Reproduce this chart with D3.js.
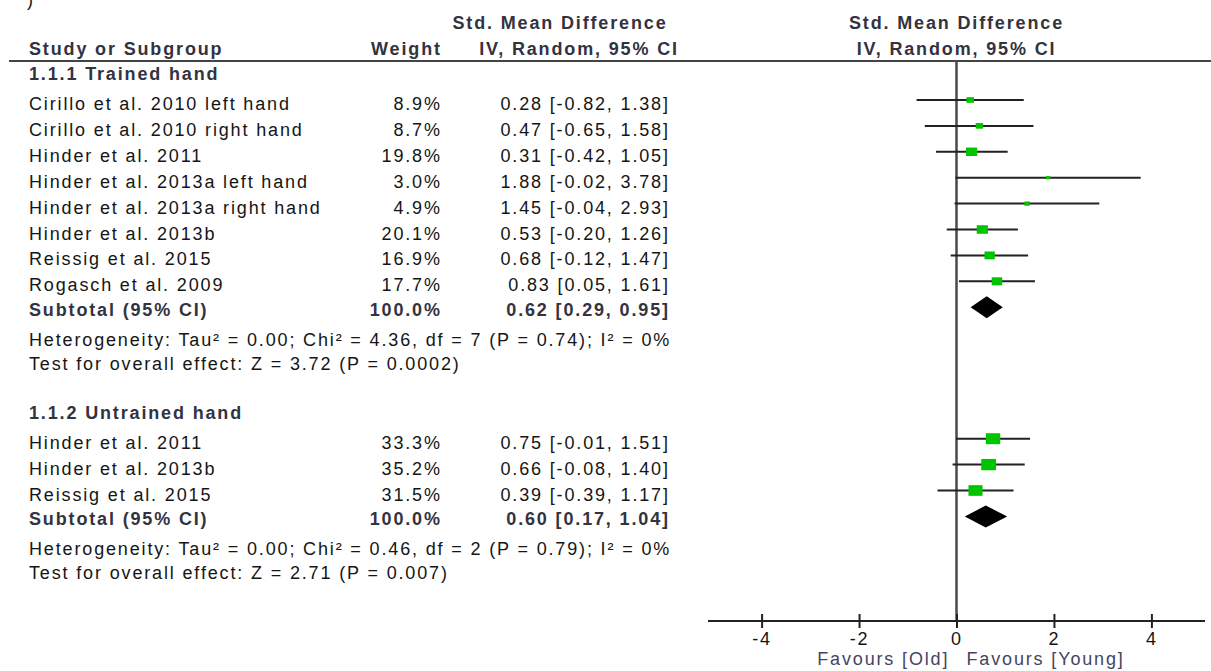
<!DOCTYPE html>
<html>
<head>
<meta charset="utf-8">
<script src="https://cdn.jsdelivr.net/npm/d3@7"></script>
<style>
  body { margin: 0; background: #fff; }
  svg text { font-family: "Liberation Sans", Arial, sans-serif; font-size: 18px; letter-spacing: 1.85px; fill: #151515; }
  svg text.bold { font-weight: bold; fill: #33333f; }
  svg text.fav { fill: #45455f; }
</style>
</head>
<body>
<div id="chart"></div>
<script>
// data
const subgroups = ['1.1.1 Trained hand', '1.1.2 Untrained hand'];

const trainedStudies = ['Cirillo et al. 2010 left hand', 'Cirillo et al. 2010 right hand', 'Hinder et al. 2011',
  'Hinder et al. 2013a left hand', 'Hinder et al. 2013a right hand', 'Hinder et al. 2013b',
  'Reissig et al. 2015', 'Rogasch et al. 2009'];
const trainedWeight = [8.9, 8.7, 19.8, 3.0, 4.9, 20.1, 16.9, 17.7];
const trainedSMD = [0.28, 0.47, 0.31, 1.88, 1.45, 0.53, 0.68, 0.83];
const trainedLow = [-0.82, -0.65, -0.42, -0.02, -0.04, -0.20, -0.12, 0.05];
const trainedHigh = [1.38, 1.58, 1.05, 3.78, 2.93, 1.26, 1.47, 1.61];

const untrainedStudies = ['Hinder et al. 2011', 'Hinder et al. 2013b', 'Reissig et al. 2015'];
const untrainedWeight = [33.3, 35.2, 31.5];
const untrainedSMD = [0.75, 0.66, 0.39];
const untrainedLow = [-0.01, -0.08, -0.39];
const untrainedHigh = [1.51, 1.40, 1.17];

const subtotalSMD = [0.62, 0.60];
const subtotalLow = [0.29, 0.17];
const subtotalHigh = [0.95, 1.04];
const heterogeneity = [
  'Heterogeneity: Tau\u00b2 = 0.00; Chi\u00b2 = 4.36, df = 7 (P = 0.74); I\u00b2 = 0%',
  'Heterogeneity: Tau\u00b2 = 0.00; Chi\u00b2 = 0.46, df = 2 (P = 0.79); I\u00b2 = 0%'
];
const overallEffect = [
  'Test for overall effect: Z = 3.72 (P = 0.0002)',
  'Test for overall effect: Z = 2.71 (P = 0.007)'
];
const xTicks = [-4, -2, 0, 2, 4];

const groups = [
  {studies: trainedStudies, weight: trainedWeight, smd: trainedSMD, low: trainedLow, high: trainedHigh},
  {studies: untrainedStudies, weight: untrainedWeight, smd: untrainedSMD, low: untrainedLow, high: untrainedHigh}
];

// layout
const W = 1211, H = 671;
const ls = 1.85;
const colStudy = 29, colWeight = 440 + ls, colCI = 668 + ls;
const rowH = 25.9;
const axisY = 621;

const svg = d3.select('#chart').append('svg')
    .attr('width', W)
    .attr('height', H);

const x = d3.scaleLinear().domain([-5.1, 5.1]).range([708, 1205]);
const boxW = d3.scaleSqrt().domain([0, 36]).range([0, 15]);
const boxH = d3.scaleSqrt().domain([0, 36]).range([0, 11.4]);
// plain hyphen for negatives, like the original
const f2 = v => v.toFixed(2);
const f1 = v => v.toFixed(1);
const ciLabel = (m, l, h) => f2(m) + ' [' + f2(l) + ', ' + f2(h) + ']';

function label(t, xx, yy, anchor, cls) {
    return svg.append('text')
        .attr('x', xx)
        .attr('y', yy)
        .attr('text-anchor', anchor || 'start')
        .attr('class', cls || null)
        .text(t);
}

// leftover of the panel label above
label(')', 27, 6);

// headers
label('Std. Mean Difference', 560, 29, 'middle', 'bold');
label('Study or Subgroup', colStudy, 55, 'start', 'bold');
label('Weight', colWeight, 55, 'end', 'bold');
label('IV, Random, 95% CI', 579, 55, 'middle', 'bold');
label('Std. Mean Difference', x(0), 29, 'middle', 'bold');
label('IV, Random, 95% CI', x(0), 55, 'middle', 'bold');

svg.append('line')
    .attr('x1', 9).attr('x2', W)
    .attr('y1', 61).attr('y2', 61)
    .attr('stroke', '#444').attr('stroke-width', 2);

// zero line
svg.append('line')
    .attr('x1', x(0)).attr('x2', x(0))
    .attr('y1', 61).attr('y2', axisY)
    .attr('stroke', '#4a4a4a').attr('stroke-width', 2.5);

let y = 80;
groups.forEach((g, gi) => {
    label(subgroups[gi], colStudy, y, 'start', 'bold');
    y += 30;

    g.studies.forEach((name, i) => {
        const yy = y + i * rowH;
        label(name, colStudy, yy);
        label(f1(g.weight[i]) + '%', colWeight, yy, 'end');
        label(ciLabel(g.smd[i], g.low[i], g.high[i]), colCI, yy, 'end');

        const cy = yy - 10;
        svg.append('line')
            .attr('x1', x(g.low[i])).attr('x2', x(g.high[i]))
            .attr('y1', cy).attr('y2', cy)
            .attr('stroke', '#222').attr('stroke-width', 2);
        const bw = boxW(g.weight[i]), bh = boxH(g.weight[i]);
        svg.append('rect')
            .attr('x', x(g.smd[i]) - bw / 2)
            .attr('y', cy - bh / 2)
            .attr('width', bw)
            .attr('height', bh)
            .attr('fill', '#00c400');
    });
    y += (g.studies.length - 1) * rowH + 24.5;

    // subtotal
    label('Subtotal (95% CI)', colStudy, y, 'start', 'bold');
    label('100.0%', colWeight, y, 'end', 'bold');
    label(ciLabel(subtotalSMD[gi], subtotalLow[gi], subtotalHigh[gi]), colCI, y, 'end', 'bold');
    const dy = y - 8.5;
    svg.append('path')
        .attr('d', d3.line()([
            [x(subtotalLow[gi]), dy],
            [x(subtotalSMD[gi]), dy - 11],
            [x(subtotalHigh[gi]), dy],
            [x(subtotalSMD[gi]), dy + 11]
        ]) + 'Z')
        .attr('fill', '#000');

    y += 29.7;
    label(heterogeneity[gi], colStudy, y);
    y += 24.2;
    label(overallEffect[gi], colStudy, y);
    y += 49;
});

// axis
svg.append('line')
    .attr('x1', x.range()[0]).attr('x2', x.range()[1])
    .attr('y1', axisY).attr('y2', axisY)
    .attr('stroke', '#222').attr('stroke-width', 2);

const xAxis = d3.axisBottom(x)
    .tickValues(xTicks)
    .tickSize(14)
    .tickPadding(4)
    .tickFormat(d => String(d));

const axisG = svg.append('g')
    .attr('transform', 'translate(0,' + (axisY - 7) + ')')
    .call(xAxis);
axisG.select('.domain').remove();
axisG.selectAll('.tick line').attr('stroke', '#222').attr('stroke-width', 2);
axisG.selectAll('.tick text')
    .attr('fill', '#151515')
    .style('font-family', '"Liberation Sans", Arial, sans-serif')
    .style('font-size', '18px');

label('Favours [Old]', x(0) - 9 + ls, 665, 'end', 'fav');
label('Favours [Young]', x(0) + 10, 665, 'start', 'fav');
</script>
</body>
</html>
